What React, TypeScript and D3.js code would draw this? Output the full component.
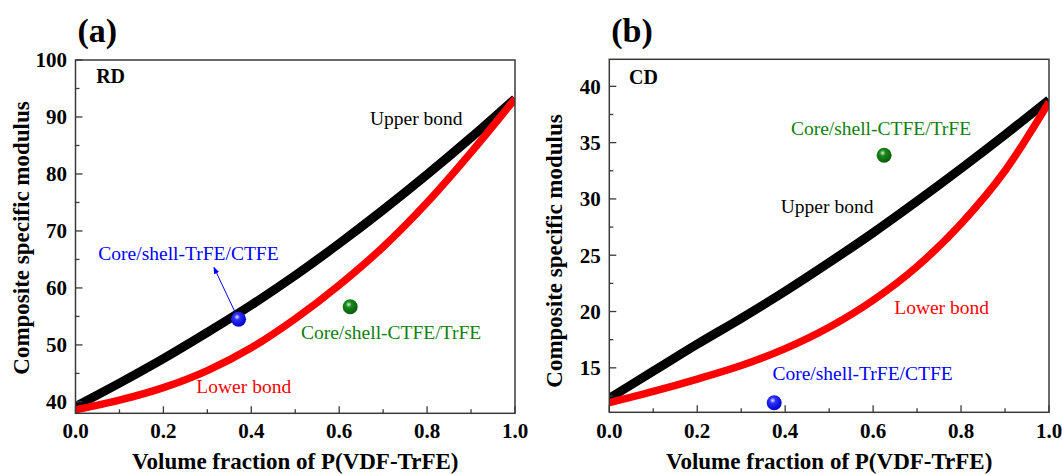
import * as d3 from 'd3';
import React from 'react';

// volume fraction of P(VDF-TrFE)
const fractions = [0, 0.1, 0.2, 0.3, 0.4, 0.5, 0.6, 0.7, 0.8, 0.9, 1.0];

// RD panel
const rdUpper = [39.2, 43.3, 47.6, 52.2, 57.0, 62.2, 67.8, 73.7, 79.9, 86.4, 93.2];
const rdLower = [38.6, 40.3, 42.5, 45.5, 49.5, 54.6, 60.5, 67.2, 75.0, 83.8, 93.2];

// CD panel
const cdUpper = [12.3, 14.7, 17.1, 19.4, 21.8, 24.35, 27.0, 29.8, 32.7, 35.7, 38.8];
const cdLower = [11.9, 12.9, 14.0, 15.2, 16.7, 18.6, 21.0, 24.0, 27.8, 32.5, 38.6];

// measured samples: [fraction, modulus]
const rdTrfeCtfe = [0.371, 54.5];
const rdCtfeTrfe = [0.625, 56.7];
const cdTrfeCtfe = [0.375, 11.9];
const cdCtfeTrfe = [0.625, 33.88];

const xMajor = [0, 0.2, 0.4, 0.6, 0.8, 1.0];
const xMinor = [0.1, 0.3, 0.5, 0.7, 0.9];
const rdMajor = [40, 50, 60, 70, 80, 90, 100];
const rdMinor = [45, 55, 65, 75, 85, 95];
const cdMajor = [15, 20, 25, 30, 35, 40];
const cdMinor = [12.5, 17.5, 22.5, 27.5, 32.5, 37.5];

const serif = '"Liberation Serif", "Times New Roman", Times, serif';
const BLUE = '#0000ff';
const GREEN = '#108010';
const RED = '#ff0000';
const AXIS = '#3a3a3a';

interface Note {
  text: string;
  x: number;
  y: number;
  color: string;
}

interface PanelProps {
  letter: string;
  tag: string;
  tagAt: [number, number];
  left: number;
  right: number;
  top: number;
  bottom: number;
  yDomain: [number, number];
  yMajor: number[];
  yMinor: number[];
  upper: number[];
  lower: number[];
  blue: number[];
  green: number[];
  notes: Note[];
  arrow?: [number, number, number, number];
  yTitleY: number;
  id: string;
}

const Panel: React.FC<PanelProps> = (p) => {
  const x = d3.scaleLinear().domain([0, 1]).range([p.left, p.right]);
  const y = d3.scaleLinear().domain(p.yDomain).range([p.bottom, p.top]);

  const line = d3
    .line<number>()
    .x((_, i) => x(fractions[i]))
    .y((d) => y(d))
    .curve(d3.curveMonotoneX);

  const ball = (pt: number[], grad: string) => (
    <circle cx={x(pt[0])} cy={y(pt[1])} r={7.5} fill={`url(#${grad})`} />
  );

  return (
    <g>
      <defs>
        <clipPath id={`clip-${p.id}`}>
          <rect x={p.left} y={p.top} width={p.right - p.left} height={p.bottom - p.top} />
        </clipPath>
      </defs>

      <text x={p.left + 2} y={42} fontFamily={serif} fontWeight="bold" fontSize={34}>
        {p.letter}
      </text>

      <g clipPath={`url(#clip-${p.id})`}>
        <path d={line(p.upper) ?? ''} fill="none" stroke="#000" strokeWidth={9} />
        <path d={line(p.lower) ?? ''} fill="none" stroke={RED} strokeWidth={7.5} />
      </g>

      {p.arrow && (
        <line
          x1={x(p.arrow[0])}
          y1={y(p.arrow[1])}
          x2={x(p.arrow[2])}
          y2={y(p.arrow[3])}
          stroke={BLUE}
          strokeWidth={1}
          markerEnd="url(#arrowhead)"
        />
      )}

      {ball(p.blue, 'ballBlue')}
      {ball(p.green, 'ballGreen')}

      {p.notes.map((n) => (
        <text key={n.text} x={x(n.x)} y={y(n.y)} fill={n.color} fontFamily={serif} fontSize={19.5}>
          {n.text}
        </text>
      ))}

      <text x={x(p.tagAt[0])} y={y(p.tagAt[1])} fontFamily={serif} fontWeight="bold" fontSize={20}>
        {p.tag}
      </text>

      {/* frame */}
      <rect
        x={p.left}
        y={p.top}
        width={p.right - p.left}
        height={p.bottom - p.top}
        fill="none"
        stroke={AXIS}
        strokeWidth={1.5}
      />

      {/* ticks point inward */}
      {xMajor.map((t) => (
        <line key={`xM${t}`} x1={x(t)} x2={x(t)} y1={p.bottom} y2={p.bottom - 7} stroke={AXIS} strokeWidth={1.3} />
      ))}
      {xMinor.map((t) => (
        <line key={`xm${t}`} x1={x(t)} x2={x(t)} y1={p.bottom} y2={p.bottom - 4} stroke={AXIS} strokeWidth={1.3} />
      ))}
      {p.yMajor.map((t) => (
        <line key={`yM${t}`} x1={p.left} x2={p.left + 7} y1={y(t)} y2={y(t)} stroke={AXIS} strokeWidth={1.3} />
      ))}
      {p.yMinor.map((t) => (
        <line key={`ym${t}`} x1={p.left} x2={p.left + 4} y1={y(t)} y2={y(t)} stroke={AXIS} strokeWidth={1.3} />
      ))}

      {xMajor.map((t) => (
        <text
          key={`xl${t}`}
          x={x(t)}
          y={438}
          textAnchor="middle"
          fontFamily={serif}
          fontWeight="bold"
          fontSize={21}
        >
          {d3.format('.1f')(t)}
        </text>
      ))}
      {p.yMajor.map((t) => (
        <text
          key={`yl${t}`}
          x={p.left - 8.5}
          y={y(t)}
          dy="0.35em"
          textAnchor="end"
          fontFamily={serif}
          fontWeight="bold"
          fontSize={21}
        >
          {t}
        </text>
      ))}

      <text
        x={(p.left + p.right) / 2}
        y={469}
        textAnchor="middle"
        fontFamily={serif}
        fontWeight="bold"
        fontSize={23}
      >
        Volume fraction of P(VDF-TrFE)
      </text>
      <text
        transform={`translate(${p.left - 47},${p.yTitleY}) rotate(-90)`}
        textAnchor="middle"
        fontFamily={serif}
        fontWeight="bold"
        fontSize={23}
      >
        Composite specific modulus
      </text>
    </g>
  );
};

export default function App() {
  return (
    <svg
      width={1062}
      height={474}
      viewBox="0 0 1062 474"
      style={{ position: 'absolute', left: 0, top: 0, background: '#fff' }}
    >
      <defs>
        <radialGradient id="ballBlue" cx="40%" cy="35%" r="65%">
          <stop offset="0%" stopColor="#e8e8ff" />
          <stop offset="30%" stopColor="#3030ff" />
          <stop offset="100%" stopColor="#0000c8" />
        </radialGradient>
        <radialGradient id="ballGreen" cx="40%" cy="35%" r="65%">
          <stop offset="0%" stopColor="#d8f0d8" />
          <stop offset="30%" stopColor="#1a8a1a" />
          <stop offset="100%" stopColor="#0a5a0a" />
        </radialGradient>
        <marker id="arrowhead" viewBox="0 0 10 10" refX="9" refY="5" markerWidth="7" markerHeight="7" orient="auto">
          <path d="M0,1 L10,5 L0,9 Z" fill={BLUE} />
        </marker>
      </defs>

      <Panel
        id="rd"
        letter="(a)"
        tag="RD"
        tagAt={[0.047, 95.9]}
        left={75.5}
        right={515}
        top={60}
        bottom={413.3}
        yDomain={[38, 100]}
        yMajor={rdMajor}
        yMinor={rdMinor}
        upper={rdUpper}
        lower={rdLower}
        blue={rdTrfeCtfe}
        green={rdCtfeTrfe}
        arrow={[0.364, 55.6, 0.315, 63.6]}
        yTitleY={238}
        notes={[
          { text: 'Upper bond', x: 0.67, y: 88.6, color: '#000' },
          { text: 'Core/shell-TrFE/CTFE', x: 0.052, y: 64.9, color: BLUE },
          { text: 'Core/shell-CTFE/TrFE', x: 0.513, y: 51.04, color: GREEN },
          { text: 'Lower bond', x: 0.275, y: 41.56, color: RED },
        ]}
      />
      <Panel
        id="cd"
        letter="(b)"
        tag="CD"
        tagAt={[0.045, 40.2]}
        left={609.3}
        right={1049}
        top={59.3}
        bottom={412.3}
        yDomain={[11.05, 42.4]}
        yMajor={cdMajor}
        yMinor={cdMinor}
        upper={cdUpper}
        lower={cdLower}
        blue={cdTrfeCtfe}
        green={cdCtfeTrfe}
        yTitleY={251}
        notes={[
          { text: 'Core/shell-CTFE/TrFE', x: 0.413, y: 35.68, color: GREEN },
          { text: 'Upper bond', x: 0.39, y: 28.72, color: '#000' },
          { text: 'Lower bond', x: 0.648, y: 19.75, color: RED },
          { text: 'Core/shell-TrFE/CTFE', x: 0.371, y: 13.92, color: BLUE },
        ]}
      />
    </svg>
  );
}
